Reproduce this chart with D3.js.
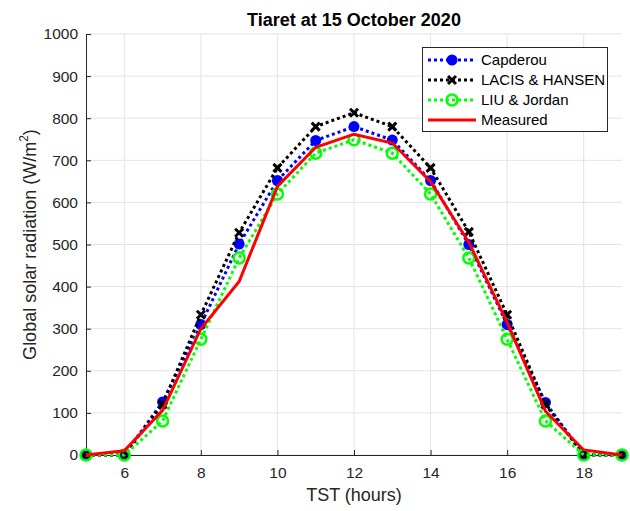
<!DOCTYPE html>
<html>
<head>
<meta charset="utf-8">
<script src="https://cdn.jsdelivr.net/npm/d3@7"></script>
<style>
body { margin: 0; background: #fff; }
text { font-family: "Liberation Sans", Arial, sans-serif; }
</style>
</head>
<body>
<div class="chart"></div>
<script>
var hours = [5, 6, 7, 8, 9, 10, 11, 12, 13, 14, 15, 16, 17, 18, 19];
var capderou = [0, 0, 126, 310, 501, 652, 747, 780, 748, 652, 500, 310, 125, 0, 0];
var lacis = [0, 0, 120, 333, 528, 682, 780, 813, 780, 682, 530, 333, 120, 0, 0];
var liu = [0, 0, 81, 275, 468, 620, 717, 749, 717, 620, 468, 275, 81, 0, 0];
var measured = [0, 10, 106, 300, 412, 638, 731, 762, 741, 649, 505, 315, 104, 12, 0];
var xTicks = [6, 8, 10, 12, 14, 16, 18];
var yTicks = [0, 100, 200, 300, 400, 500, 600, 700, 800, 900, 1000];

var width = 630, height = 511;
var margin = {top: 34, right: 8, bottom: 56, left: 86};

var svg = d3.select(".chart")
    .append("svg")
    .attr("width", width)
    .attr("height", height);

var x = d3.scaleLinear().domain([5, 19]).range([margin.left, width - margin.right]);
var y = d3.scaleLinear().domain([0, 1000]).range([height - margin.bottom, margin.top]);

// grid
svg.append("g")
    .selectAll("line.gx")
    .data(xTicks)
    .enter().append("line")
    .attr("x1", d => x(d)).attr("x2", d => x(d))
    .attr("y1", y(0)).attr("y2", y(1000))
    .attr("stroke", "#e3e3e3").attr("stroke-width", 1);
svg.append("g")
    .selectAll("line.gy")
    .data(yTicks)
    .enter().append("line")
    .attr("x1", x(5)).attr("x2", x(19))
    .attr("y1", d => y(d)).attr("y2", d => y(d))
    .attr("stroke", "#e3e3e3").attr("stroke-width", 1);

// axes
var xAxis = svg.append("g")
    .attr("transform", "translate(0," + y(0) + ")")
    .call(d3.axisBottom(x).tickValues(xTicks).tickFormat(d3.format("d"))
        .tickSizeInner(-5).tickSizeOuter(0).tickPadding(12));
var yAxis = svg.append("g")
    .attr("transform", "translate(" + x(5) + ",0)")
    .call(d3.axisLeft(y).tickValues(yTicks).tickFormat(d3.format("d"))
        .tickSizeInner(-5).tickSizeOuter(0).tickPadding(8));
[xAxis, yAxis].forEach(function(a) {
    a.selectAll("path, line").attr("stroke", "#262626");
    a.selectAll("text").attr("fill", "#262626").attr("font-size", 15.5)
        .style("font-family", "'Liberation Sans', Arial, sans-serif");
});

// series
var line = d3.line().x((d, i) => x(hours[i])).y(d => y(d));

function drawSeries(values, color, dash, width) {
    svg.append("path")
        .datum(values)
        .attr("d", line)
        .attr("fill", "none")
        .attr("stroke", color)
        .attr("stroke-width", width)
        .attr("stroke-dasharray", dash);
}

function drawMarkers(values, kind) {
    var g = svg.append("g");
    values.forEach(function(v, i) {
        drawMarker(g, kind, x(hours[i]), y(v));
    });
}

function drawMarker(g, kind, cx, cy) {
    if (kind == "dot") {
        g.append("circle").attr("cx", cx).attr("cy", cy).attr("r", 5.5).attr("fill", "#0000ff");
    } else if (kind == "x") {
        var s = 4;
        g.append("path")
            .attr("d", "M" + (cx - s) + "," + (cy - s) + "L" + (cx + s) + "," + (cy + s) +
                "M" + (cx - s) + "," + (cy + s) + "L" + (cx + s) + "," + (cy - s))
            .attr("stroke", "#000").attr("stroke-width", 3);
    } else if (kind == "o") {
        g.append("circle").attr("cx", cx).attr("cy", cy).attr("r", 5.5)
            .attr("fill", "none").attr("stroke", "#00ff00").attr("stroke-width", 2.5);
    }
}

drawSeries(capderou, "#0000ff", "3,3", 3);
drawMarkers(capderou, "dot");
drawSeries(lacis, "#000000", "3,3", 3);
drawMarkers(lacis, "x");
drawSeries(liu, "#00ff00", "3,3", 3);
drawMarkers(liu, "o");
drawSeries(measured, "#ff0000", null, 3);

// title and labels
svg.append("text")
    .attr("x", (x(5) + x(19)) / 2)
    .attr("y", 26)
    .attr("text-anchor", "middle")
    .attr("font-size", 18)
    .attr("font-weight", "bold")
    .text("Tiaret at 15 October 2020");

svg.append("text")
    .attr("x", (x(5) + x(19)) / 2)
    .attr("y", 501)
    .attr("text-anchor", "middle")
    .attr("font-size", 18)
    .attr("fill", "#262626")
    .text("TST (hours)");

var yl = svg.append("text")
    .attr("transform", "translate(36," + ((y(0) + y(1000)) / 2) + ") rotate(-90)")
    .attr("text-anchor", "middle")
    .attr("font-size", 18)
    .attr("fill", "#262626");
yl.append("tspan").text("Global solar radiation (W/m");
yl.append("tspan").attr("font-size", 12).attr("dy", -8).text("2");
yl.append("tspan").attr("dy", 8).text(")");

// legend
var legendItems = [
    {name: "Capderou", color: "#0000ff", dash: "3,3", marker: "dot"},
    {name: "LACIS & HANSEN", color: "#000000", dash: "3,3", marker: "x"},
    {name: "LIU & Jordan", color: "#00ff00", dash: "3,3", marker: "o"},
    {name: "Measured", color: "#ff0000", dash: null, marker: null}
];
var legend = svg.append("g");
legend.append("rect")
    .attr("x", 422.5).attr("y", 47.5)
    .attr("width", 185).attr("height", 84)
    .attr("fill", "#fff").attr("stroke", "#262626").attr("stroke-width", 1);
legendItems.forEach(function(d, i) {
    var ly = 60 + 20 * i;
    legend.append("line")
        .attr("x1", 428).attr("x2", 476)
        .attr("y1", ly).attr("y2", ly)
        .attr("stroke", d.color).attr("stroke-width", 3)
        .attr("stroke-dasharray", d.dash);
    if (d.marker) drawMarker(legend, d.marker, 452, ly);
    legend.append("text")
        .attr("x", 481).attr("y", ly + 5)
        .attr("font-size", 15)
        .attr("fill", "#000")
        .text(d.name);
});
</script>
</body>
</html>
